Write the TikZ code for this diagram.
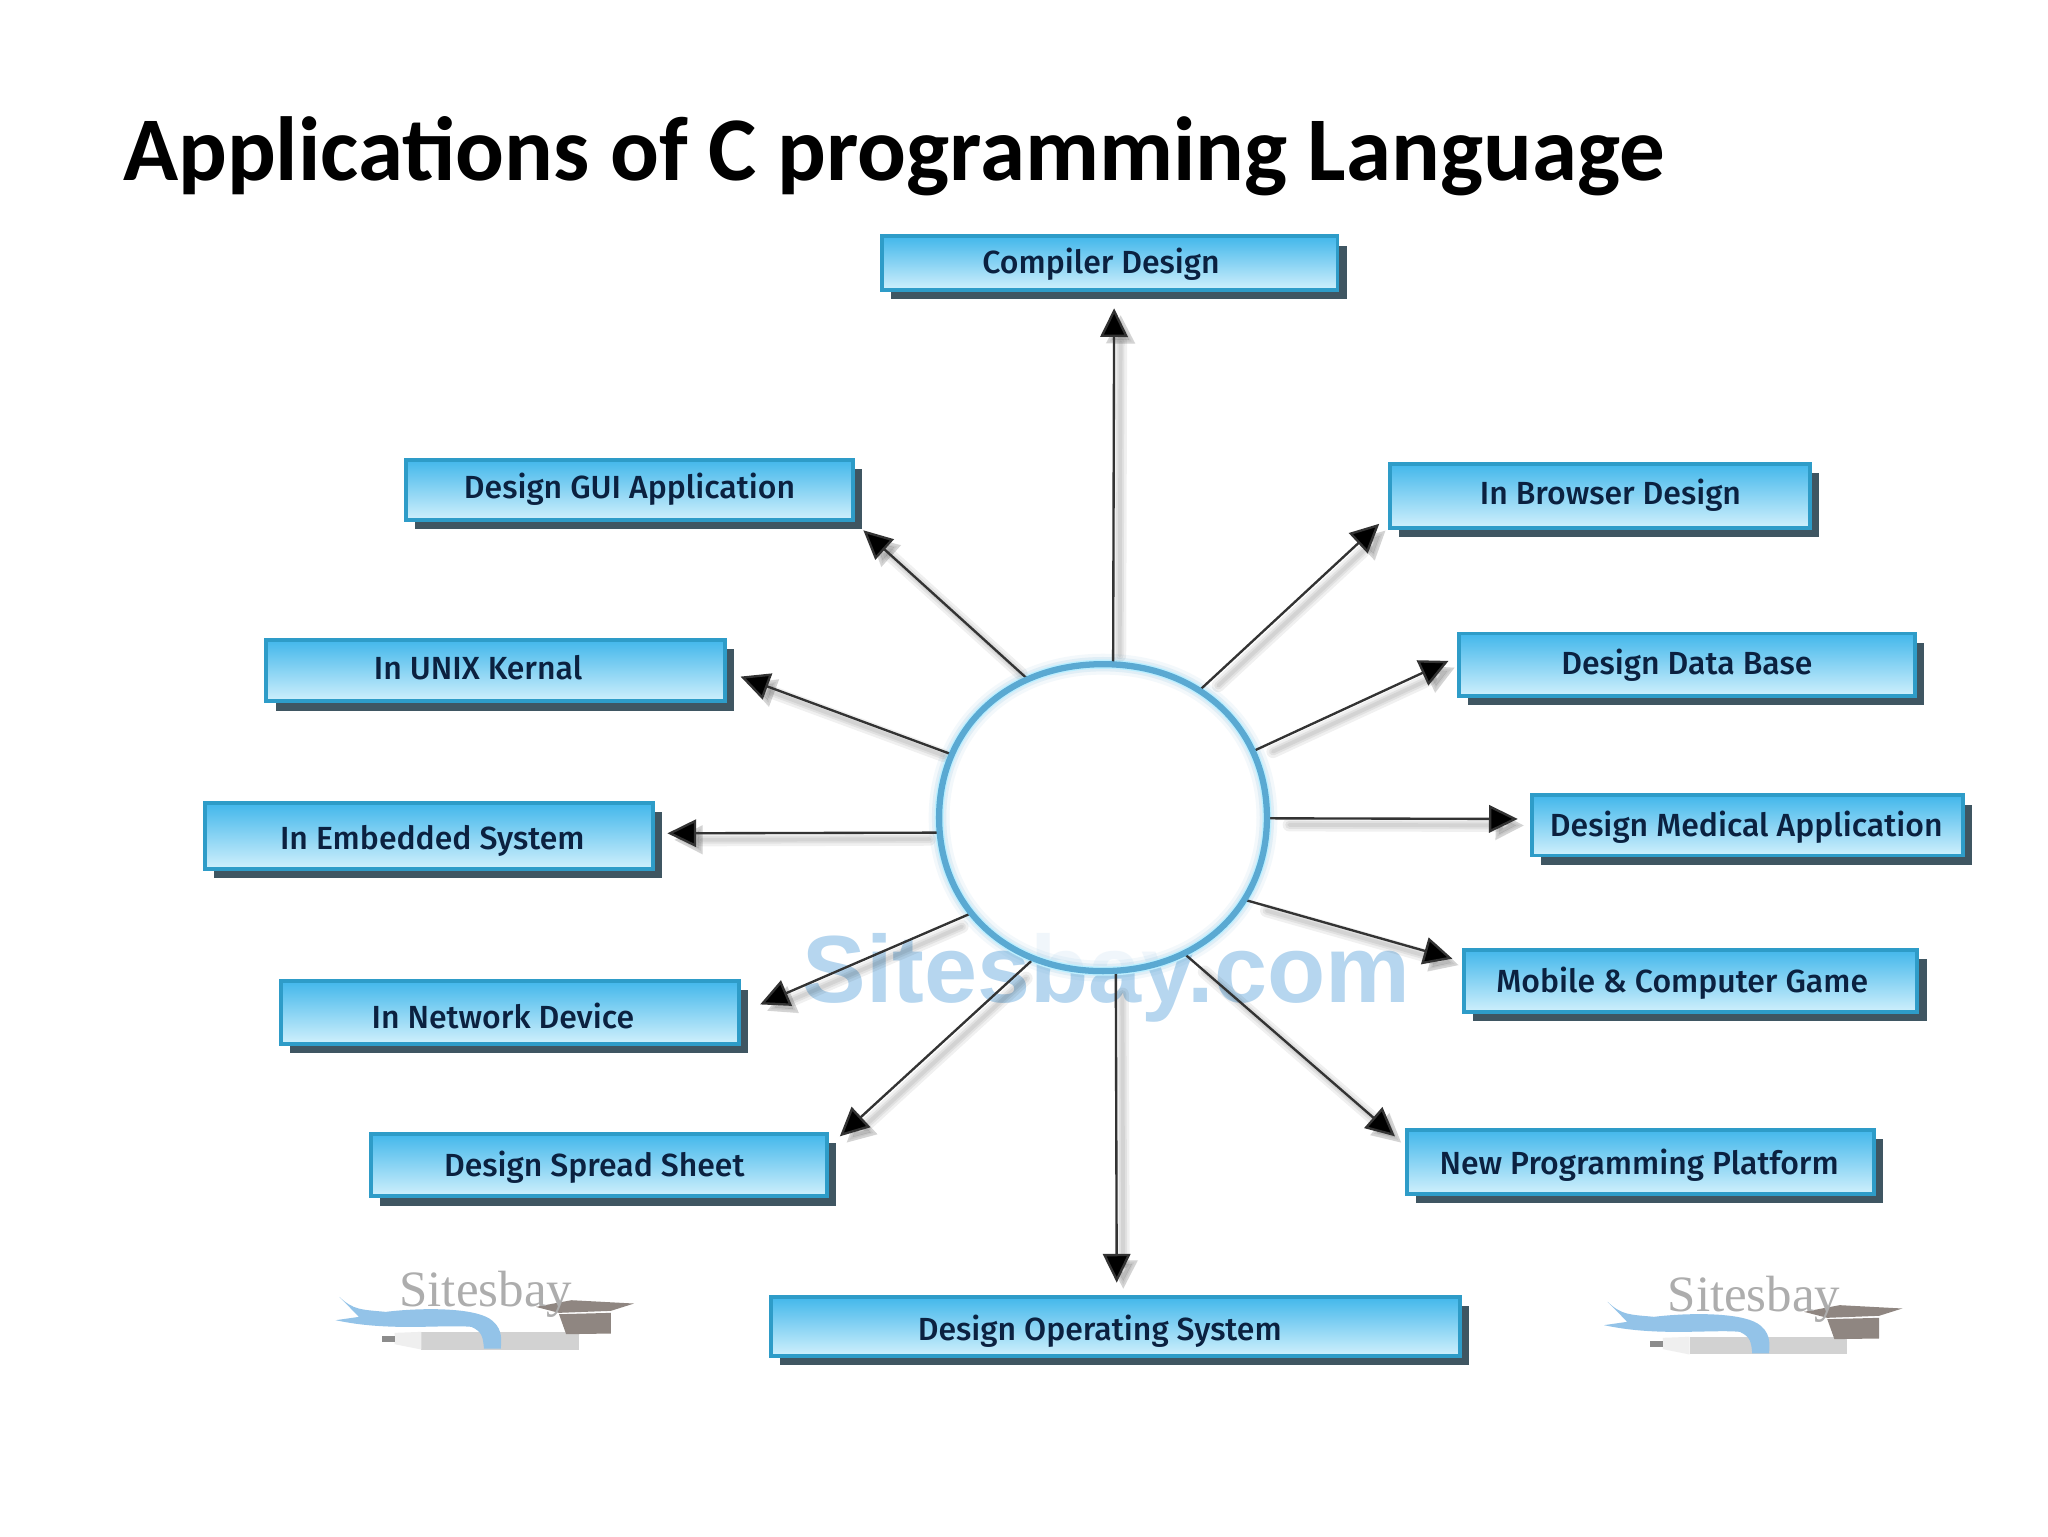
\documentclass[tikz,border=0pt]{standalone}
\usepackage{fontspec}
\setmainfont{Carlito}
\newfontfamily\boxfont{Fira Sans}[UprightFont=* Medium]
\newfontfamily\markfont{Liberation Sans}
\newfontfamily\logofont{Liberation Serif}
\usetikzlibrary{arrows.meta,shadows,shapes.geometric}
\definecolor{boxedge}{HTML}{2E9CC8}
\definecolor{boxtop}{HTML}{42B7EB}
\definecolor{boxbot}{HTML}{D0F0FC}
\definecolor{boxdrop}{HTML}{3F5662}
\definecolor{boxtext}{HTML}{0B2140}
\definecolor{ringblue}{HTML}{5AA9D2}
\definecolor{ringglow}{HTML}{BDEFFF}
\definecolor{markblue}{HTML}{B6D6EF}
\definecolor{ribbon}{HTML}{93C3E8}
\definecolor{capgray}{HTML}{8F8681}
\definecolor{pengray}{HTML}{D2D2D2}
\tikzset{
  appbox/.style={draw=boxedge,line width=3pt,top color=boxtop,bottom color=boxbot,
    inner sep=0pt,font=\boxfont\fontsize{24.5}{27}\selectfont,text=boxtext,
    drop shadow={shadow xshift=7pt,shadow yshift=-7pt,fill=boxdrop,opacity=1}},
  hubshape/.style={ellipse,draw=none,fill=none,inner sep=0pt,outer sep=0pt},
  linkline/.style={draw=black!80,line width=1.8pt,-{Triangle[length=22pt,width=21pt,fill=black]}},
  linkhalo/.style={draw=black,line cap=round,-{Triangle[length=22pt,width=21pt]}}
}
% name, cx, cy, w, h, dx, dy, text
\newcommand\appnode[8]{%
  \node[appbox,minimum width=#4pt,minimum height=#5pt] (#1) at (#2,#3)
    {\raisebox{\dimexpr#7pt-9.5pt\relax}[0pt][0pt]{#8\hspace*{\dimexpr-2\dimexpr#6pt\relax\relax}}};}
% anchor angle, tip, shortening at the hub
\newcommand\hublink[3]{%
  \begin{scope}[transform canvas={shift={(5pt,-5pt)}},opacity=.06]
    \draw[linkhalo,line width=10pt,shorten <=#3pt+12pt] (hub.#1) -- (#2);
    \draw[linkhalo,line width=6pt,shorten <=#3pt+12pt] (hub.#1) -- (#2);
    \draw[linkhalo,line width=3pt,shorten <=#3pt+12pt] (hub.#1) -- (#2);
  \end{scope}
  \draw[linkline,shorten <=#3pt] (hub.#1) -- (#2);}
\newcommand\ringpath{(970,626) .. controls (970,557.3) and (917.9,508.5) .. (844.5,508.5)
  .. controls (771.1,508.5) and (719,557.3) .. (719,626)
  .. controls (719,694.7) and (771.1,743.5) .. (844.5,743.5)
  .. controls (917.9,743.5) and (970,694.7) .. (970,626) -- cycle}
\newcommand\sitelogo[3]{%
  \begin{scope}[shift={(#2,#3)},x=.2735pt,y=-.2552pt]
    \fill[pengray] (340,335) rectangle (780,388);
    \fill[pengray!35] (265,338) -- (340,335) -- (340,388) -- (265,372) -- cycle;
    \fill[black!45] (230,347) rectangle (265,366);
    \fill[ribbon] (110,230) .. controls (150,270) and (170,268) .. (240,275)
      .. controls (340,262) and (480,262) .. (530,295)
      .. controls (565,320) and (565,350) .. (562,385) -- (515,385)
      .. controls (512,350) and (510,335) .. (480,320)
      .. controls (400,312) and (250,335) .. (100,300)
      -- (165,290) -- cycle;
    \fill[capgray] (725,282) -- (870,278) -- (870,340) -- (745,342) -- cycle;
    \fill[capgray] (660,260) -- (760,240) -- (935,250) -- (870,272) -- (725,278) -- cycle;
    \node[inner sep=0pt,text=black!32,font=\logofont\fontsize{39}{39}\selectfont] (#1) at (520,222) {Sitesbay};
  \end{scope}}
\begin{document}
\begin{tikzpicture}[x=1pt,y=-1pt]
\useasboundingbox (0,0) rectangle (1568,1176);
\fill[white] (0,0) rectangle (1568,1176);

\node[inner sep=0pt,anchor=base west,font=\bfseries\fontsize{69.7}{74}\selectfont] (title) at (94,138.5)
  {Applications of C programming Language};

\node[inner sep=0pt,text=markblue,font=\markfont\bfseries\fontsize{73}{73}\selectfont] (mark) at (847,749) {Sitesbay.com};
\fill[white,opacity=.8] \ringpath;
\node[hubshape,minimum width=252pt,minimum height=236pt] (hub) at (844,626.5) {};

\sitelogo{logoa}{229.7}{934.2}
\sitelogo{logob}{1200.7}{938}

\appnode{compiler}{849.5}{201.5}{349}{41}{-6.5}{1.5}{Compiler Design}
\appnode{gui}{482}{375}{342}{46}{0}{3}{Design GUI Application}
\appnode{browser}{1225}{379.5}{322}{49}{8}{2.5}{In Browser Design}
\appnode{unix}{379.5}{513.5}{351}{47}{-13.5}{2.5}{In UNIX Kernal}
\appnode{database}{1291.5}{509}{349}{48}{0}{2}{Design Data Base}
\appnode{embedded}{328.5}{640}{343}{50}{2.5}{-1}{In Embedded System}
\appnode{medical}{1338}{632}{330}{46}{-1}{1}{Design Medical Application}
\appnode{network}{390.5}{775}{351}{48}{-5.5}{-3}{In Network Device}
\appnode{mobile}{1294.5}{751}{347}{48}{-6.5}{1}{Mobile \& Computer Game}
\appnode{spread}{458.5}{892}{349}{48}{-3.5}{1}{Design Spread Sheet}
\appnode{newprog}{1256}{889.5}{358}{49}{-1}{-.5}{New Programming Platform}
\appnode{opsys}{854}{1015.5}{528}{45}{-12}{-1}{Design Operating System}

\coordinate (tcompiler) at (853,236);
\coordinate (tgui) at (661,406);
\coordinate (tbrowser) at (1056,401);
\coordinate (tunix) at (567,518);
\coordinate (tdatabase) at (1109,506);
\coordinate (tembedded) at (511,638);
\coordinate (tmedical) at (1162,627);
\coordinate (tnetwork) at (582,769);
\coordinate (tmobile) at (1112,734);
\coordinate (tspread) at (643,870);
\coordinate (tnewprog) at (1068,870);
\coordinate (topsys) at (855,982);

\draw[ringblue,line width=16pt,opacity=.07] \ringpath;
\draw[ringblue,line width=11pt,opacity=.12] \ringpath;
\draw[ringglow,line width=7pt] \ringpath;

\hublink{86.2}{tcompiler}{0}
\hublink{118.2}{tgui}{3}
\hublink{53.8}{tbrowser}{3}
\hublink{157.8}{tunix}{1}
\hublink{24.8}{tdatabase}{1}
\hublink{185.4}{tembedded}{0}
\hublink{0}{tmedical}{0}
\hublink{216.9}{tnetwork}{2}
\hublink{330.6}{tmobile}{2}
\hublink{244}{tspread}{3}
\hublink{301.3}{tnewprog}{3}
\hublink{275.3}{topsys}{0}

\draw[ringblue,line width=4.8pt] \ringpath;
\end{tikzpicture}
\end{document}
